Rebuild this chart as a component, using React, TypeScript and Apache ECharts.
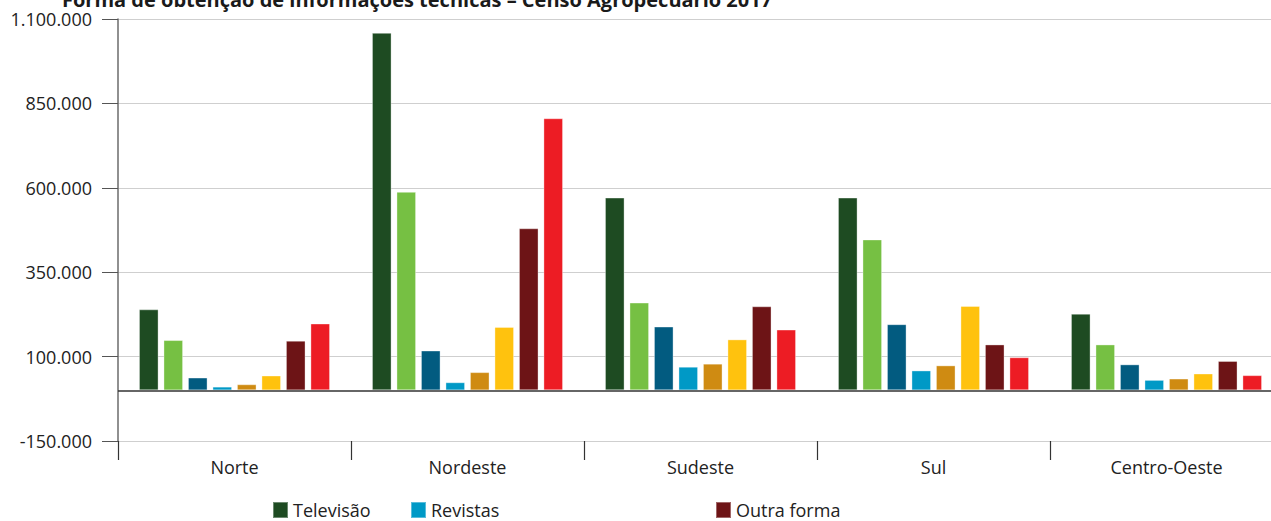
import React, { useEffect, useRef } from "react";
import * as echarts from "echarts";

const titleText = "Forma de obtenção de informações técnicas – Censo Agropecuário 2017";
const categories = ["Norte", "Nordeste", "Sudeste", "Sul", "Centro-Oeste"];
const seriesNames = [
  "Televisão",
  "Rádio",
  "Internet",
  "Revistas",
  "Jornais",
  "Reuniões técnicas/seminários",
  "Outra forma",
  "Não obteve informações técnicas",
];
const televisao = [240000, 1059000, 571000, 571000, 227000];
const radio = [149000, 588000, 260000, 447000, 136000];
const internet = [38000, 118000, 189000, 196000, 77000];
const revistas = [11000, 24000, 70000, 59000, 31000];
const jornais = [18000, 54000, 79000, 74000, 35000];
const reunioes = [44000, 188000, 151000, 250000, 50000];
const outraForma = [147000, 480000, 249000, 136000, 87000];
const naoObteve = [198000, 806000, 180000, 98000, 45000];
const seriesValues = [televisao, radio, internet, revistas, jornais, reunioes, outraForma, naoObteve];
const seriesColors = ["#1e4b22", "#76c043", "#025b80", "#0099c6", "#cf8b12", "#ffc20e", "#6d1416", "#ed1c24"];
const yTicks = [-150000, 100000, 350000, 600000, 850000, 1100000];
const legendShown = ["Televisão", "Revistas", "Outra forma"];
const legendLeft = [272, 410, 715];

const FONT = "'Open Sans', sans-serif";

function fmt(v: number): string {
  const s = String(Math.abs(Math.round(v))).replace(/\B(?=(\d{3})+(?!\d))/g, ".");
  return (v < 0 ? "-" : "") + s;
}

export default function App() {
  const ref = useRef<HTMLDivElement>(null);
  useEffect(() => {
    if (!ref.current) return;
    const chart = echarts.init(ref.current, null, { renderer: "svg" });
    const series = seriesNames.map((name, i) => ({
      name,
      type: "bar",
      data: seriesValues[i],
      barGap: "25%",
      barCategoryGap: "18%",
      itemStyle: {
        color: seriesColors[i],
        borderColor: "rgba(255,255,255,0.35)",
        borderWidth: 1,
      },
      ...(i === 0
        ? {
            markLine: {
              silent: true,
              symbol: ["none", "none"],
              label: { show: false },
              lineStyle: { color: "#333", width: 1.5, type: "solid" },
              data: [{ yAxis: 0 }],
            },
          }
        : {}),
    }));
    chart.setOption({
      animation: false,
      backgroundColor: "#ffffff",
      textStyle: { fontFamily: FONT },
      title: {
        text: titleText,
        left: 62,
        top: -11,
        padding: 0,
        textStyle: { fontFamily: FONT, fontSize: 20, fontWeight: "bold", color: "#1a1a1a" },
      },
      color: seriesColors,
      legend: legendShown.map((name, i) => ({
        data: [name],
        left: legendLeft[i],
        top: 501,
        padding: 0,
        icon: "rect",
        itemWidth: 15,
        itemHeight: 16,
        selectedMode: false,
        textStyle: { fontFamily: FONT, fontSize: 18, color: "#222" },
      })),
      grid: { left: 118, top: 19, bottom: 80, right: 0, containLabel: false },
      xAxis: {
        type: "category",
        data: categories,
        axisLine: { show: false, onZero: false },
        axisTick: { show: true, length: 19, lineStyle: { color: "#333", width: 1.2 } },
        axisLabel: { fontFamily: FONT, fontSize: 18, color: "#222", margin: 17 },
        splitLine: { show: false },
      },
      yAxis: {
        type: "value",
        min: -150000,
        max: 1100000,
        axisLine: { show: true, lineStyle: { color: "#6b6b6b", width: 1.5 } },
        axisTick: { show: true, length: 16, customValues: yTicks, lineStyle: { color: "#555", width: 1 } },
        axisLabel: {
          customValues: yTicks,
          fontFamily: FONT,
          fontSize: 18,
          color: "#222",
          margin: 26,
          formatter: (v: number) => fmt(v),
        },
        splitLine: { show: true, lineStyle: { color: "#cfcfcf", width: 1 } },
      },
      series,
    });
    return () => chart.dispose();
  }, []);
  return (
    <div style={{ position: "fixed", left: 0, top: 0, width: 1271, height: 521, overflow: "hidden", background: "#fff" }}>
      <div ref={ref} style={{ width: 1283, height: 521 }} />
    </div>
  );
}
